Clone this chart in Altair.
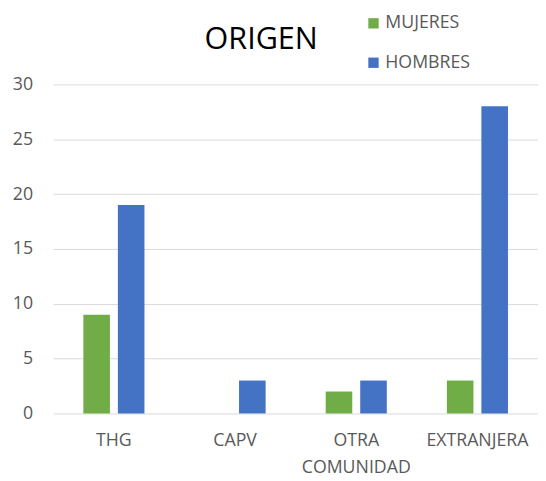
import altair as alt
import pandas as pd

categories = ["THG", "CAPV", "OTRA COMUNIDAD", "EXTRANJERA"]
series = ["MUJERES", "HOMBRES"]
mujeres = [9, 0, 2, 3]
hombres = [19, 3, 3, 28]
colors = ["#70AD47", "#4472C4"]
y_ticks = [0, 5, 10, 15, 20, 25, 30]
chart_title = ["ORIGEN"]

rows = []
for c, m, h in zip(categories, mujeres, hombres):
    rows.append({"cat": c, "serie": "MUJERES", "val": m})
    rows.append({"cat": c, "serie": "HOMBRES", "val": h})
df = pd.DataFrame(rows)

FONT = "Open Sans"

bars = alt.Chart(df).mark_bar().encode(
    x=alt.X("cat:N", sort=categories, title=None,
            scale=alt.Scale(paddingInner=0, paddingOuter=0),
            axis=alt.Axis(labelAngle=0, labelExpr="split(datum.label, ' ')",
                          labelLineHeight=27, labelFontSize=18, labelColor="#595959",
                          labelFont=FONT, ticks=False, domain=False, labelPadding=28,
                          labelBaseline="middle")),
    xOffset=alt.XOffset("serie:N", sort=series,
                        scale=alt.Scale(paddingInner=0.23, paddingOuter=0.87)),
    y=alt.Y("val:Q", title=None,
            scale=alt.Scale(domain=[0, 30], nice=False),
            axis=alt.Axis(values=y_ticks, grid=True, gridColor="#D9D9D9", gridWidth=1,
                          ticks=False, domain=False, labelFontSize=18,
                          labelColor="#595959", labelFont=FONT, labelPadding=21)),
    color=alt.Color("serie:N", sort=series,
                    scale=alt.Scale(domain=series, range=colors),
                    legend=alt.Legend(title=None, orient="none", legendX=316, legendY=-71,
                                      symbolType="square", symbolSize=110,
                                      symbolStrokeWidth=0, labelFontSize=18,
                                      labelColor="#595959", labelFont=FONT,
                                      rowPadding=22, labelOffset=3)),
)

title = alt.Chart(pd.DataFrame({"t": chart_title})).mark_text(
    font=FONT, fontSize=31, color="#000000", align="center", baseline="middle"
).encode(text="t:N", x=alt.value(211), y=alt.value(-45))

chart = alt.layer(bars, title).properties(
    width=492, height=334,
    padding={"left": 46, "top": 74, "right": 0, "bottom": 65},
    autosize=alt.AutoSizeParams(type="none"),
).configure_view(stroke=None)

chart.save("out.html", embed_options={"renderer": "svg", "actions": False})
